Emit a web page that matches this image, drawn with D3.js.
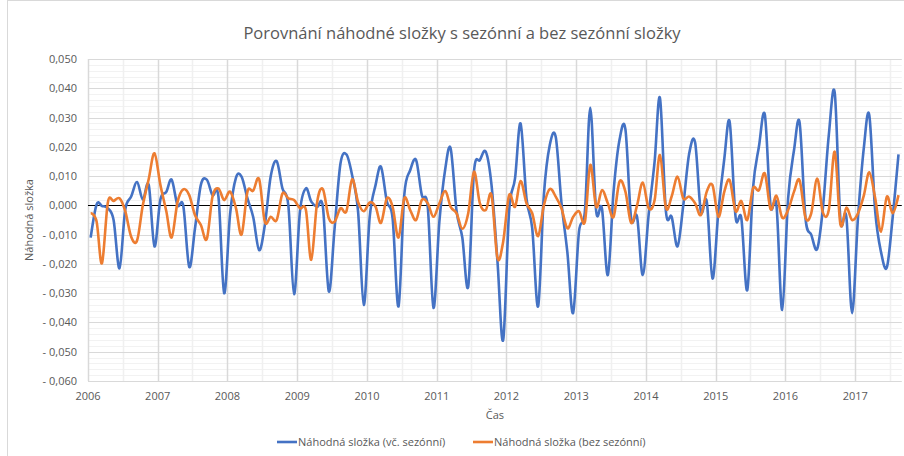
<!DOCTYPE html>
<meta charset="utf-8">
<html>
<script src="https://d3js.org/d3.v7.min.js"></script>
<style>
  body { margin: 0; background: #fff; }
  text { font-family: "Open Sans", sans-serif; fill: #595959; }
</style>
<div id="chart"></div>
<script>

// monthly values, Jan 2006 .. Aug 2017
var withSeason = [
  -0.011, 0.0003, -0.0002, -0.001, -0.005, -0.0215, -0.0015, 0.003, 0.008, 0.002, 0.007, -0.014,
  0.002, 0.0046, 0.0088, 0.000, -0.0002, -0.021, -0.008, 0.007, 0.0088, 0.0035, 0.003, -0.030,
  -0.003, 0.0095, 0.0098, 0.0024, -0.004, -0.0153, -0.0067, 0.010, 0.0151, 0.0058, 0.000, -0.0303,
  -0.002, 0.0058, 0.0013, -0.0005, -0.0005, -0.0294, -0.008, 0.0143, 0.0174, 0.0103, -0.002, -0.034,
  -0.004, 0.007, 0.0132, 0.0013, -0.0044, -0.0345, 0.0035, 0.012, 0.0155, 0.0035, -0.0005, -0.035,
  -0.0055, 0.0126, 0.0194, -0.002, -0.011, -0.0277, 0.0115, 0.0155, 0.0183, 0.0069, -0.019, -0.046,
  -0.002, 0.0092, 0.028, 0.0024, -0.0078, -0.0345, 0.0035, 0.0206, 0.0234, 0.001, -0.016, -0.0368,
  -0.009, -0.002, 0.0333, -0.002, -0.001, -0.0238, 0.0047, 0.0223, 0.026, -0.0044, -0.0039, -0.0238,
  -0.003, 0.015, 0.0367, -0.002, -0.0039, -0.014, 0.000, 0.0177, 0.0215, -0.002, 0.0013, -0.025,
  -0.002, 0.016, 0.0285, -0.004, -0.0044, -0.029, 0.0058, 0.020, 0.031, 0.000, 0.000, -0.0357,
  0.0024, 0.0189, 0.0283, -0.0044, -0.010, -0.0149, -0.001, 0.024, 0.0385, -0.005, -0.004, -0.0368,
  -0.004, 0.020, 0.0308, -0.002, -0.0158, -0.0212, -0.0044, 0.0174
];
var noSeason = [
  -0.0027, -0.0055, -0.0198, 0.001, 0.0015, 0.0024, -0.002, -0.0107, -0.012, 0.000, 0.009, 0.0178,
  0.007, -0.002, -0.011, 0.0012, 0.0055, 0.0035, -0.0033, -0.0067, -0.0115, 0.003, 0.0058, 0.0018,
  0.0047, -0.001, -0.010, 0.0047, 0.005, 0.009, -0.0056, -0.0039, -0.005, 0.004, 0.0024, 0.0018,
  -0.001, -0.0016, -0.0186, 0.0012, 0.0055, -0.0044, -0.0056, -0.001, -0.002, 0.0089, 0.0012, -0.002,
  0.001, -0.0005, -0.006, 0.0024, -0.0005, -0.011, 0.0024, -0.0016, -0.005, 0.0018, 0.0007, -0.0039,
  0.0007, 0.0049, -0.0005, -0.0027, -0.008, -0.0027, 0.0115, 0.0007, -0.0016, 0.0035, -0.018, -0.0124,
  0.0035, -0.0005, 0.0083, 0.0007, -0.0027, -0.0105, 0.000, 0.0056, 0.003, -0.001, -0.0078, -0.004,
  -0.002, -0.0056, 0.0138, -0.0005, 0.0052, 0.0007, -0.0039, 0.0081, 0.0047, -0.006, 0.000, 0.0078,
  -0.001, 0.0018, 0.0172, -0.0008, 0.003, 0.0098, 0.0024, 0.003, 0.0007, -0.0033, 0.0047, 0.0069,
  -0.0039, 0.0047, 0.0086, -0.002, 0.0015, -0.005, 0.0058, 0.0052, 0.0109, -0.0013, 0.0033, -0.0042,
  -0.0016, 0.0047, 0.0086, -0.0042, -0.0027, 0.0092, -0.0024, -0.0016, 0.0183, -0.0065, -0.0008, -0.005,
  -0.0027, 0.0035, 0.0113, 0.0024, -0.009, 0.003, -0.0027, 0.0035
];
var seriesNames = ["Náhodná složka (vč. sezónní)", "Náhodná složka (bez sezónní)"];
var seriesColors = ["#4472C4", "#ED7D31"];
var yearTicks = [2006, 2007, 2008, 2009, 2010, 2011, 2012, 2013, 2014, 2015, 2016, 2017];
var yTicks = [0.05, 0.04, 0.03, 0.02, 0.01, 0, -0.01, -0.02, -0.03, -0.04, -0.05, -0.06];

(function() {
var width = 904, height = 456;
var pLeft = 88, pRight = 901.75, pTop = 59, pBottom = 381;

var svg = d3.select("#chart").append("svg")
    .attr("width", width)
    .attr("height", height);

// chart area border
svg.append("rect")
    .attr("x", 7.5).attr("y", 0.5)
    .attr("width", width).attr("height", height + 2)
    .attr("fill", "none").attr("stroke", "#d9d9d9");

var x = d3.scaleTime()
    .domain([new Date(2006, 0, 1), new Date(2017, 8, 1)])
    .range([pLeft, pRight]);
var y = d3.scaleLinear()
    .domain([-0.06, 0.05])
    .range([pBottom, pTop]);

var dates = withSeason.map(function(d, i) { return new Date(2006, i, 15); });

// minor grid
svg.append("g").selectAll("line")
  .data(d3.range(-0.06, 0.0501, 0.002))
  .enter().append("line")
    .attr("x1", pLeft).attr("x2", pRight)
    .attr("y1", function(d) { return Math.round(y(d)) + 0.5; })
    .attr("y2", function(d) { return Math.round(y(d)) + 0.5; })
    .attr("stroke", "#f2f2f2");
svg.append("g").selectAll("line")
  .data(yearTicks.map(function(yr) { return new Date(yr, 6, 1); }))
  .enter().append("line")
    .attr("x1", function(d) { return Math.round(x(d)) + 0.5; })
    .attr("x2", function(d) { return Math.round(x(d)) + 0.5; })
    .attr("y1", pTop).attr("y2", pBottom)
    .attr("stroke", "#f0f0f0").attr("stroke-width", 1.5);

// major grid
svg.append("g").selectAll("line")
  .data(yTicks)
  .enter().append("line")
    .attr("x1", pLeft).attr("x2", pRight)
    .attr("y1", function(d) { return Math.round(y(d)) + 0.5; })
    .attr("y2", function(d) { return Math.round(y(d)) + 0.5; })
    .attr("stroke", "#d9d9d9");
svg.append("g").selectAll("line")
  .data(yearTicks.map(function(yr) { return new Date(yr, 0, 1); }))
  .enter().append("line")
    .attr("x1", function(d) { return Math.round(x(d)) + 0.5; })
    .attr("x2", function(d) { return Math.round(x(d)) + 0.5; })
    .attr("y1", pTop).attr("y2", pBottom)
    .attr("stroke", "#d9d9d9").attr("stroke-width", 1.5);

// zero axis line
svg.append("line")
    .attr("x1", pLeft).attr("x2", pRight)
    .attr("y1", Math.round(y(0)) + 0.5).attr("y2", Math.round(y(0)) + 0.5)
    .attr("stroke", "#000");

// y labels (Czech number format)
var fmt = function(d) {
  var s = d3.format(".3f")(Math.abs(d)).replace(".", ",");
  return (d < 0 ? "- " : "") + s;
};
svg.append("g").selectAll("text")
  .data(yTicks)
  .enter().append("text")
    .attr("x", 77)
    .attr("y", function(d) { return y(d) + 4; })
    .attr("text-anchor", "end")
    .style("font-size", "11px")
    .text(fmt);

// x labels
svg.append("g").selectAll("text")
  .data(yearTicks)
  .enter().append("text")
    .attr("x", function(d) { return x(new Date(d, 0, 1)); })
    .attr("y", 400)
    .attr("text-anchor", "middle")
    .style("font-size", "11px")
    .text(function(d) { return d; });

// lines
var line = d3.line()
    .x(function(d, i) { return x(dates[i]); })
    .y(function(d) { return y(d); })
    .curve(d3.curveCardinal.tension(0));

[withSeason, noSeason].forEach(function(s, k) {
  svg.append("path")
    .datum(s)
    .attr("d", line)
    .attr("fill", "none")
    .attr("stroke", seriesColors[k])
    .attr("stroke-width", 2.6)
    .attr("stroke-linejoin", "round");
});

// titles
svg.append("text")
    .attr("x", 462).attr("y", 39)
    .attr("text-anchor", "middle")
    .style("font-size", "16.5px")
    .text("Porovnání náhodné složky s sezónní a bez sezónní složky");

svg.append("text")
    .attr("x", (pLeft + pRight) / 2).attr("y", 419)
    .attr("text-anchor", "middle")
    .style("font-size", "11px")
    .text("Čas");

svg.append("text")
    .attr("transform", "translate(33," + y(-0.005) + ") rotate(-90)")
    .attr("text-anchor", "middle")
    .style("font-size", "11px")
    .text("Náhodná složka");

// legend
var legendX = [277, 473];
var legend = svg.selectAll(".legend")
  .data(seriesNames)
  .enter().append("g")
    .attr("class", "legend")
    .attr("transform", function(d, i) { return "translate(" + legendX[i] + ",442)"; });
legend.append("line")
    .attr("x1", 0).attr("x2", 20)
    .attr("stroke", function(d, i) { return seriesColors[i]; })
    .attr("stroke-width", 2.6);
legend.append("text")
    .attr("x", 21).attr("y", 4)
    .style("font-size", "11px")
    .text(function(d) { return d; });
})();
</script>
</html>
